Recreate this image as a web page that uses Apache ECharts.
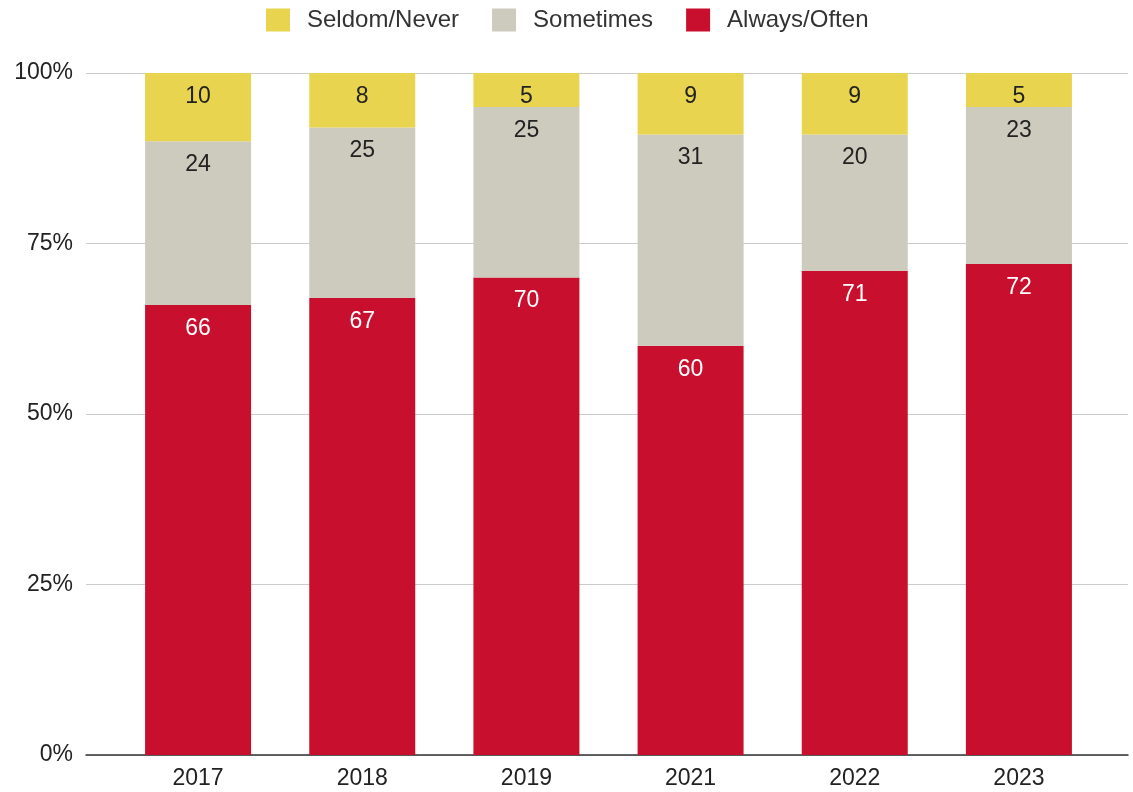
<!DOCTYPE html>
<html>
<head>
<meta charset="utf-8">
<script src="https://cdn.jsdelivr.net/npm/echarts@6/dist/echarts.min.js"></script>
<style>
  html, body { margin: 0; padding: 0; background: #fff; }
  #chart { width: 1133px; height: 792px; }
</style>
</head>
<body>
<div id="chart"></div>
<script>
// Survey responses by year (percent of respondents)
const years = ['2017', '2018', '2019', '2021', '2022', '2023'];
const alwaysOften = [66, 67, 70, 60, 71, 72];
const sometimes = [24, 25, 25, 31, 20, 23];
const seldomNever = [10, 8, 5, 9, 9, 5];
const yTicks = [0, 25, 50, 75, 100];

const FONT = 'Arial, "Liberation Sans", sans-serif';
const RED = '#C8102E';
const GREY = '#CDCBBE';
const YELLOW = '#E8D44E';

const chart = echarts.init(document.getElementById('chart'));

function labelStyle(color) {
  return {
    show: true,
    position: 'insideTop',
    distance: 12,
    color: color,
    fontSize: 23,
    fontFamily: FONT
  };
}

chart.setOption({
  animation: false,
  textStyle: { fontFamily: FONT },
  legend: {
    top: 3,
    left: 261,
    itemWidth: 24,
    itemHeight: 23,
    itemGap: 33,
    icon: 'rect',
    data: ['Seldom/Never', 'Sometimes', 'Always/Often'],
    textStyle: { fontSize: 24, color: '#333', fontFamily: FONT, padding: [0, 0, 0, 12] }
  },
  grid: [
    // frame for gridlines and percentage scale
    { left: 86, right: 5, top: 73, bottom: 37 },
    // bars
    { left: 116, right: 32, top: 73, bottom: 37 }
  ],
  xAxis: [
    {
      type: 'category', gridIndex: 0, data: years,
      axisLine: { show: true, lineStyle: { color: '#333', width: 1.5 } },
      axisTick: { show: false },
      axisLabel: { show: false }
    },
    {
      type: 'category', gridIndex: 1, data: years,
      axisLine: { show: false },
      axisTick: { show: false },
      axisLabel: { fontSize: 23, color: '#222', margin: 12, fontFamily: FONT }
    }
  ],
  yAxis: [
    {
      type: 'value', gridIndex: 0, min: yTicks[0], max: yTicks[yTicks.length - 1], interval: 25,
      axisLabel: { formatter: '{value}%', fontSize: 23, color: '#222', margin: 13, fontFamily: FONT },
      axisLine: { show: false },
      axisTick: { show: false },
      splitLine: { lineStyle: { color: '#cccccc', width: 1 } }
    },
    {
      type: 'value', gridIndex: 1, min: 0, max: 100,
      show: false,
      splitLine: { show: false }
    }
  ],
  series: [
    {
      name: 'Always/Often', type: 'bar', stack: 'total',
      xAxisIndex: 1, yAxisIndex: 1, barWidth: 106,
      itemStyle: { color: RED },
      label: labelStyle('#ffffff'),
      data: alwaysOften
    },
    {
      name: 'Sometimes', type: 'bar', stack: 'total',
      xAxisIndex: 1, yAxisIndex: 1, barWidth: 106,
      itemStyle: { color: GREY },
      label: labelStyle('#222222'),
      data: sometimes
    },
    {
      name: 'Seldom/Never', type: 'bar', stack: 'total',
      xAxisIndex: 1, yAxisIndex: 1, barWidth: 106,
      itemStyle: { color: YELLOW },
      label: labelStyle('#222222'),
      data: seldomNever
    }
  ]
});
</script>
</body>
</html>
